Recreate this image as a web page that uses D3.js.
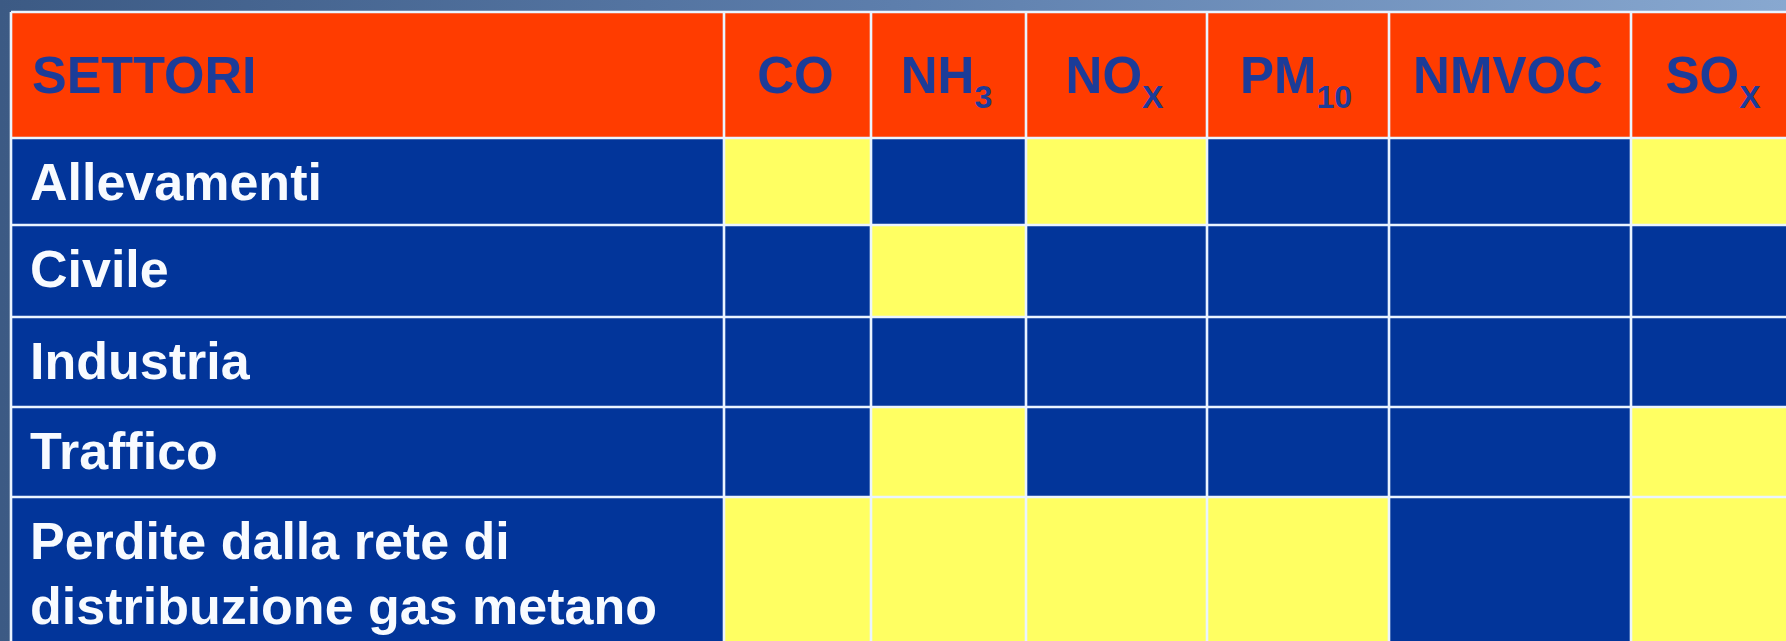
<!DOCTYPE html>
<html><head><meta charset="utf-8">
<script src="https://cdn.jsdelivr.net/npm/d3@7"></script>
<style>html,body{margin:0;padding:0;overflow:hidden;background:#4a6a94}</style>
</head><body><svg id="chart" width="1786" height="641"></svg>
<script>
// ---- data ----
const headerLabel = "SETTORI";
const sectors = ["Allevamenti","Civile","Industria","Traffico","Perdite dalla rete di distribuzione gas metano"];
const sectorLines = [["Allevamenti"],["Civile"],["Industria"],["Traffico"],["Perdite dalla rete di","distribuzione gas metano"]];
const pollutants = ["CO","NH3","NOX","PM10","NMVOC","SOX"];
const pollutantMain = ["CO","NH","NO","PM","NMVOC","SO"];
const pollutantSub = ["","3","X","10","","X"];
// 1 = yellow cell, 0 = blue cell
const allevamenti = [1,0,1,0,0,1];
const civile      = [0,1,0,0,0,0];
const industria   = [0,0,0,0,0,0];
const traffico    = [0,1,0,0,0,1];
const perdite     = [1,1,1,1,0,1];
const matrix = [allevamenti, civile, industria, traffico, perdite];

// ---- layout ----
const W = 1786, H = 641;
const colWidths = [713,147,155,181,182,242,168];   // label column + pollutant columns
const rowHeights = [126,87,92,90,90,160];         // header + sector rows
const x0 = 11, y0 = 12;
const colNames = ["__label"].concat(pollutants);
const rowNames = ["__header"].concat(sectors);
const cumX = [0]; colWidths.forEach(w => cumX.push(cumX[cumX.length-1] + w));
const cumY = [0]; rowHeights.forEach(h => cumY.push(cumY[cumY.length-1] + h));
const xs = d3.scaleLinear().domain([0, cumX[cumX.length-1]]).range([x0, x0 + cumX[cumX.length-1]]);
const ys = d3.scaleLinear().domain([0, cumY[cumY.length-1]]).range([y0, y0 + cumY[cumY.length-1]]);
const colX = d3.scaleOrdinal().domain(colNames).range(cumX.slice(0,-1).map(xs));
const colX1 = d3.scaleOrdinal().domain(colNames).range(cumX.slice(1).map(xs));
const rowY = d3.scaleOrdinal().domain(rowNames).range(cumY.slice(0,-1).map(ys));
const rowY1 = d3.scaleOrdinal().domain(rowNames).range(cumY.slice(1).map(ys));
const color = d3.scaleOrdinal().domain([0,1]).range(["#02359a","#ffff62"]);

const svg = d3.select("#chart");
const defs = svg.append("defs");
const g = defs.append("linearGradient").attr("id","bg").attr("x1","0").attr("x2","1").attr("y1","0").attr("y2","0");
g.append("stop").attr("offset","0%").attr("stop-color","#3c5a84");
g.append("stop").attr("offset","50%").attr("stop-color","#5d7eac");
g.append("stop").attr("offset","100%").attr("stop-color","#88a8d0");
svg.append("rect").attr("width",W).attr("height",H).attr("fill","url(#bg)");

// header row
svg.append("rect")
  .attr("x", xs(0)).attr("y", rowY("__header"))
  .attr("width", xs(cumX[cumX.length-1]) - xs(0))
  .attr("height", rowY1("__header") - rowY("__header"))
  .attr("fill","#ff3c00");
// label column
svg.selectAll("rect.lab").data(sectors).enter().append("rect").attr("class","lab")
  .attr("x", colX("__label")).attr("y", d => rowY(d))
  .attr("width", colX1("__label") - colX("__label"))
  .attr("height", d => rowY1(d) - rowY(d))
  .attr("fill","#02359a");
// cells
const cells = [];
sectors.forEach((s,i) => pollutants.forEach((p,j) => cells.push({s, p, v: matrix[i][j]})));
svg.selectAll("rect.cell").data(cells).enter().append("rect").attr("class","cell")
  .attr("x", d => colX(d.p)).attr("y", d => rowY(d.s))
  .attr("width", d => colX1(d.p) - colX(d.p))
  .attr("height", d => rowY1(d.s) - rowY(d.s))
  .attr("fill", d => color(d.v));

// grid lines
const gl = svg.append("g").attr("stroke","#eaf4ff").attr("stroke-width",2.6);
cumX.forEach(c => gl.append("line").attr("x1",xs(c)).attr("x2",xs(c)).attr("y1",ys(0)).attr("y2",H+20));
cumY.forEach(c => gl.append("line").attr("y1",ys(c)).attr("y2",ys(c)).attr("x1",xs(0)).attr("x2",W+20));

const font = "'Liberation Sans', Arial, sans-serif";
// header texts
svg.append("text").attr("x", xs(0) + 21).attr("y", rowY("__header") + 81)
  .attr("font-family",font).attr("font-weight","bold").attr("font-size",52)
  .attr("fill","#1c3c98").text(headerLabel);
const ht = svg.selectAll("text.ph").data(pollutants).enter().append("text").attr("class","ph")
  .attr("x", d => (colX(d) + colX1(d)) / 2 - 2)
  .attr("y", rowY("__header") + 81)
  .attr("text-anchor","middle")
  .attr("font-family",font).attr("font-weight","bold").attr("font-size",51)
  .attr("fill","#1c3c98");
ht.append("tspan").text((d,i) => pollutantMain[i]);
ht.append("tspan").attr("font-size",32).attr("dy",15).text((d,i) => pollutantSub[i]);

// sector labels
const st = svg.selectAll("text.sl").data(sectors).enter().append("text").attr("class","sl")
  .attr("font-family",font).attr("font-weight","bold").attr("font-size",52)
  .attr("fill","#f8fbff");
st.selectAll("tspan").data((d,i) => sectorLines[i].map((t,k) => ({t,k,s:d}))).enter().append("tspan")
  .attr("x", xs(0) + 19)
  .attr("y", d => rowY(d.s) + 62 + d.k * 65)
  .text(d => d.t);
</script>
</body></html>
